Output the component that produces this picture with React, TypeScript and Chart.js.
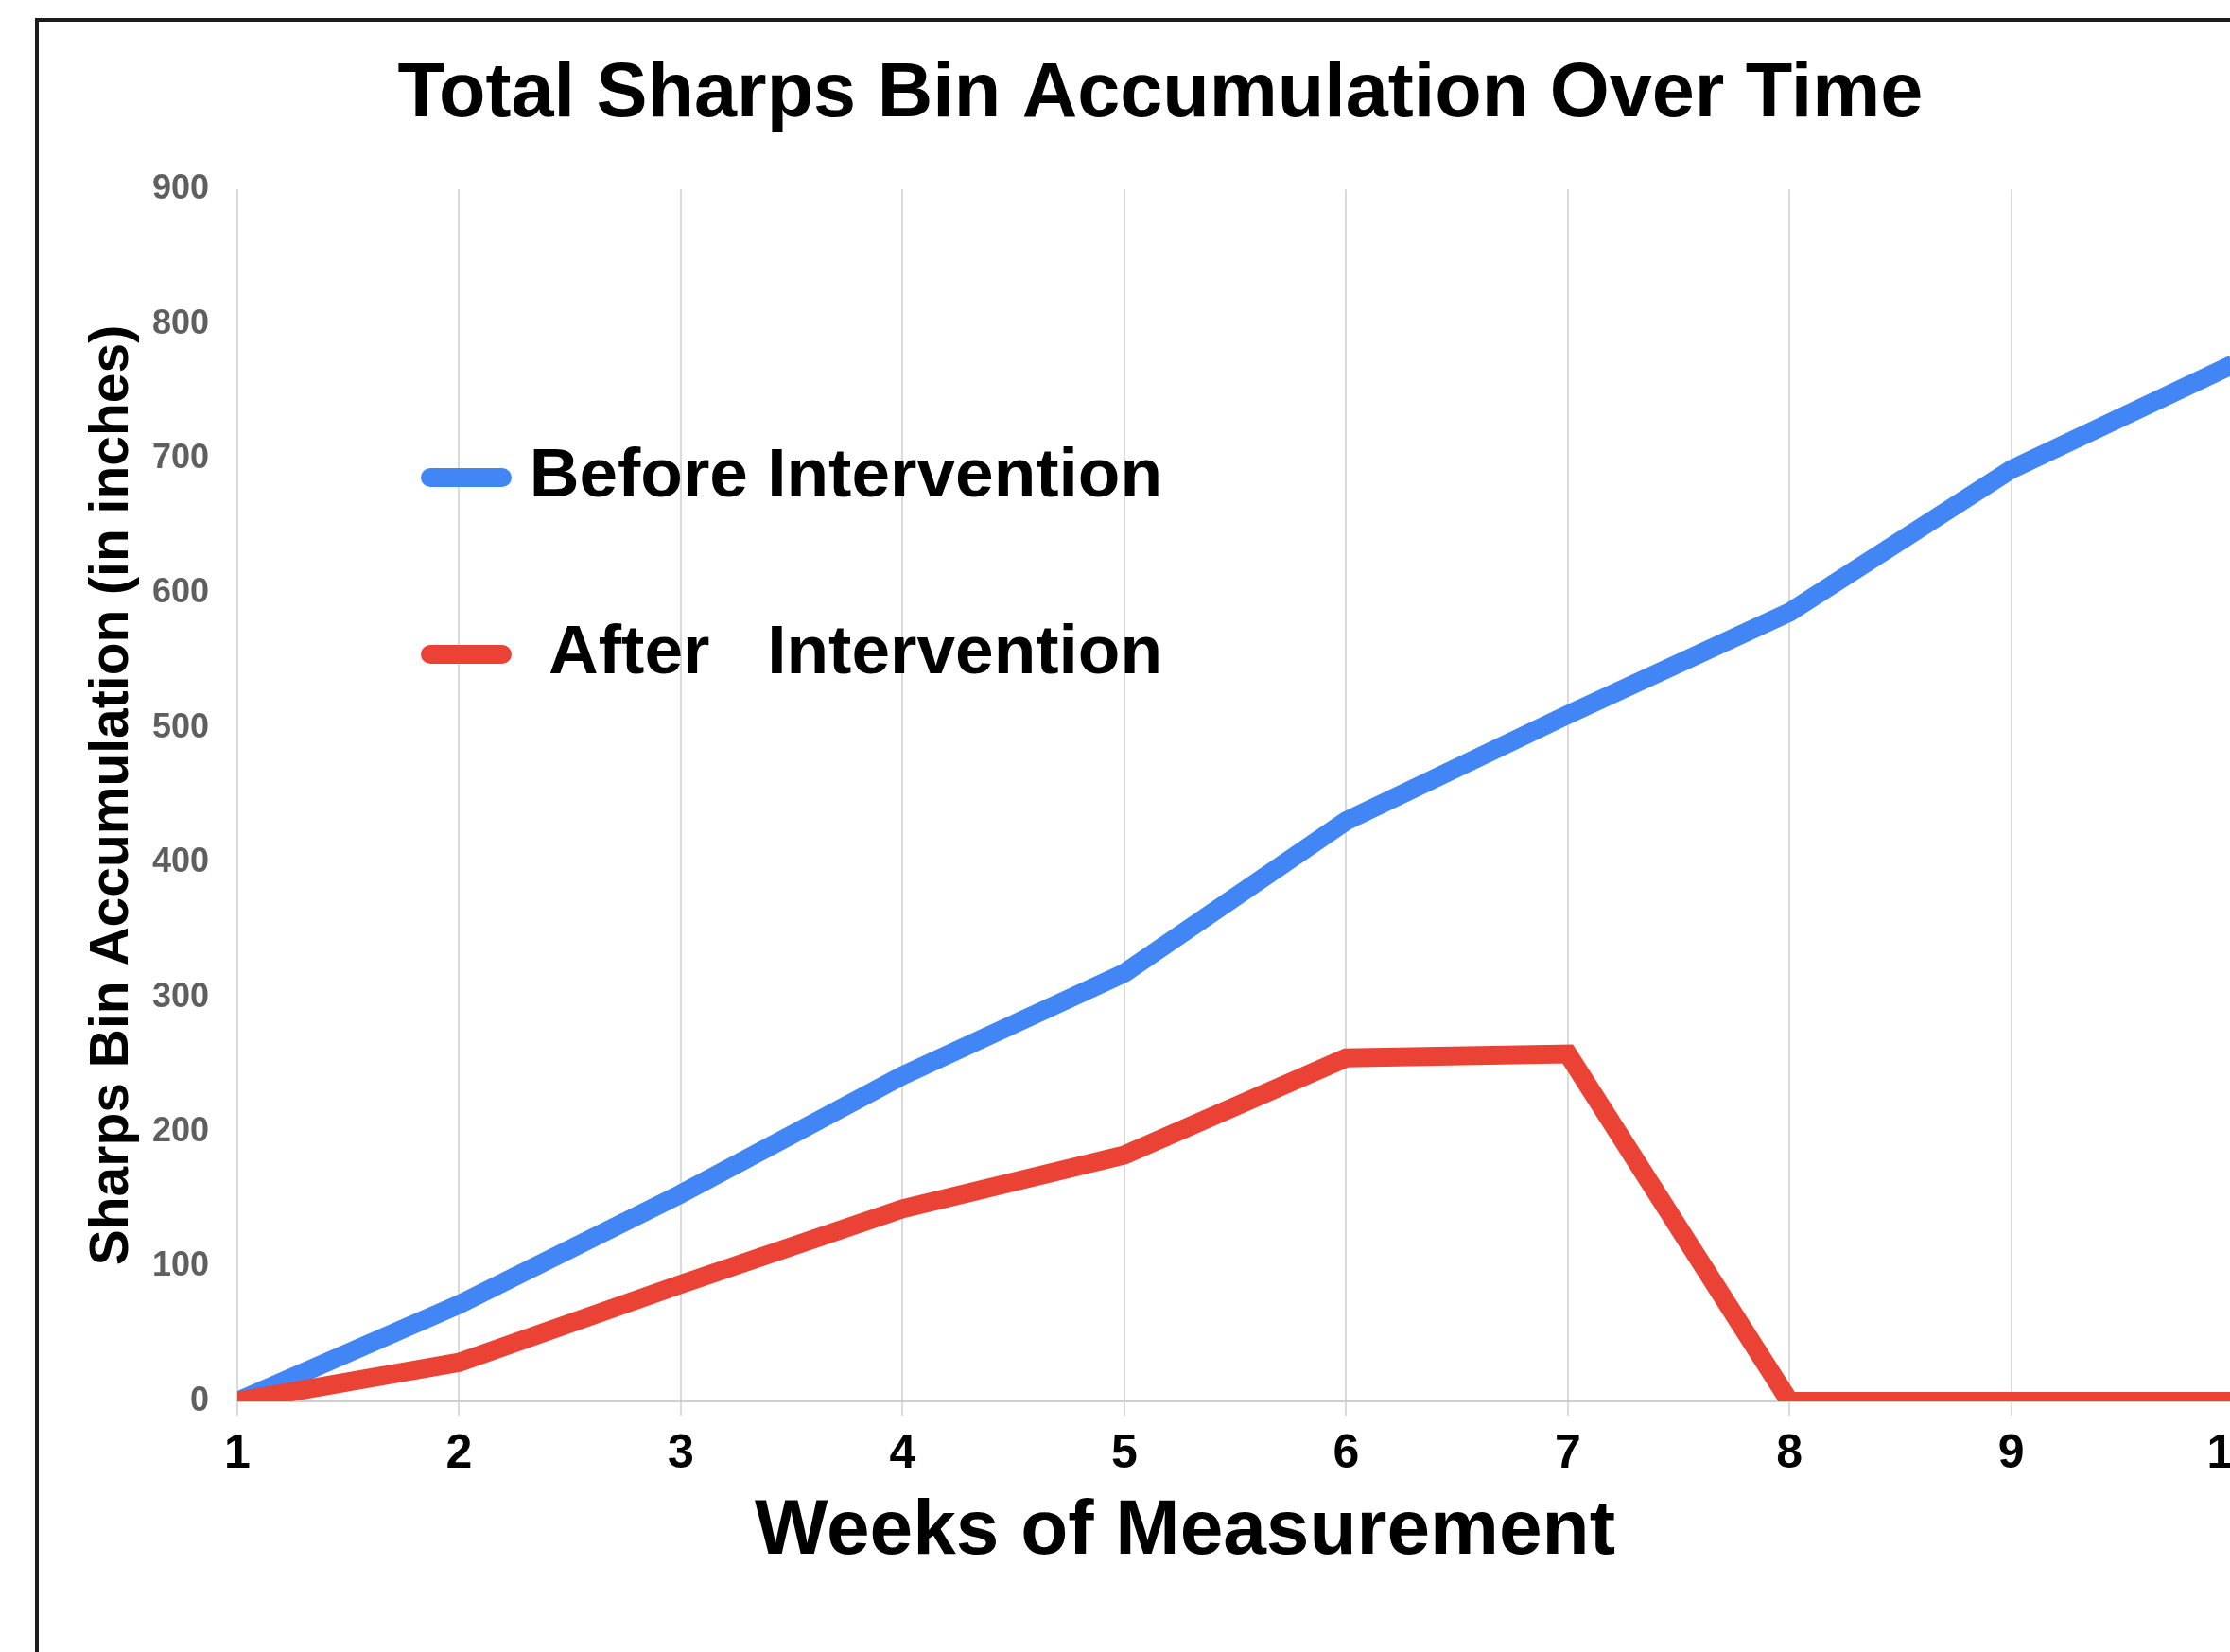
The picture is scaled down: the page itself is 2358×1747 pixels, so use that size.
import React, { useEffect, useRef } from "react";
import { Chart, registerables } from "chart.js";

Chart.register(...registerables);

const FONT = "'Liberation Sans', Arial, Helvetica, sans-serif";

const weeks = ["1", "2", "3", "4", "5", "6", "7", "8", "9", "10"];
const beforeValues = [0, 72, 154, 242, 318, 431, 510, 586, 692, 770];
const afterValues = [0, 29, 87, 143, 183, 255, 258, 0, 0, 0];
const seriesLabels = ["Before Intervention", "After   Intervention"];
const seriesColors = ["#4285F4", "#EA4335"];
const xAxisTitle = "Weeks of Measurement";
const yMin = 0;
const yMax = 900;
const yStep = 100;

const CANVAS_W = 2400;
const CANVAS_H = 1747;

const insideLegend = {
  id: "insideLegend",
  afterDatasetsDraw(chart: any) {
    const { ctx } = chart;
    const rowsY = [507, 694];
    ctx.save();
    chart.data.datasets.forEach((ds: any, i: number) => {
      const y = rowsY[i];
      ctx.strokeStyle = ds.borderColor;
      ctx.lineWidth = 20;
      ctx.lineCap = "round";
      ctx.beginPath();
      ctx.moveTo(455, y - 2);
      ctx.lineTo(531, y - 2);
      ctx.stroke();
      ctx.font = `bold 73px ${FONT}`;
      ctx.fillStyle = "#000";
      ctx.textAlign = "right";
      ctx.textBaseline = "middle";
      ctx.fillText(ds.label, 1229, y - 2);
    });
    // x axis title, centred where the reference puts it
    ctx.font = `bold 82px ${FONT}`;
    ctx.fillStyle = "#000";
    ctx.textAlign = "center";
    ctx.textBaseline = "middle";
    ctx.fillText(xAxisTitle, 1253, 1620);
    ctx.restore();
  },
};

export default function App() {
  const canvasRef = useRef<HTMLCanvasElement | null>(null);

  useEffect(() => {
    const canvas = canvasRef.current;
    if (!canvas) return;
    const chart = new Chart(canvas, {
      type: "line",
      data: {
        labels: weeks,
        datasets: [
          {
            label: seriesLabels[0],
            data: beforeValues,
            borderColor: seriesColors[0],
            backgroundColor: seriesColors[0],
            borderWidth: 20,
            pointRadius: 0,
            pointHoverRadius: 0,
            tension: 0,
            fill: false,
            order: 1,
            clip: { left: 0, top: 30, right: 30, bottom: 0 },
          },
          {
            label: seriesLabels[1],
            data: afterValues,
            borderColor: seriesColors[1],
            backgroundColor: seriesColors[1],
            borderWidth: 20,
            pointRadius: 0,
            pointHoverRadius: 0,
            tension: 0,
            fill: false,
            order: 0,
            clip: { left: 0, top: 30, right: 30, bottom: 0 },
          },
        ],
      },
      options: {
        responsive: false,
        maintainAspectRatio: false,
        animation: false,
        devicePixelRatio: 1,
        layout: { padding: { top: 20, left: 91, right: 37, bottom: 0 } },
        plugins: {
          legend: { display: false },
          tooltip: { enabled: false },
          title: {
            display: true,
            text: "Total Sharps Bin Accumulation Over Time",
            color: "#000",
            font: { family: FONT, size: 81, weight: "bold" },
            padding: { top: 32, bottom: 51 },
          },
        },
        scales: {
          x: {
            type: "category",
            offset: false,
            afterFit: (scale: any) => {
              scale.height = 265;
            },
            grid: {
              display: true,
              color: "#dadada",
              lineWidth: 2,
              drawTicks: true,
              tickLength: 15,
              tickColor: "#dadada",
            },
            border: { display: true, color: "#d0d0d0", width: 2 },
            ticks: {
              color: "#000",
              font: { family: FONT, size: 50, weight: "bold" },
              padding: 11,
              maxRotation: 0,
              autoSkip: false,
            },
            title: { display: false },
          },
          y: {
            min: yMin,
            max: yMax,
            afterFit: (scale: any) => {
              scale.width = 160;
            },
            grid: { display: false, drawTicks: false },
            border: { display: false },
            ticks: {
              stepSize: yStep,
              color: "#5f5f5f",
              font: { family: FONT, size: 36, weight: "bold" },
              padding: 30,
            },
            title: {
              display: true,
              text: "Sharps Bin Accumulation (in inches)",
              color: "#000",
              font: { family: FONT, size: 57, weight: "bold", lineHeight: 1 },
              padding: { top: 0, bottom: 0 },
            },
          },
        },
      },
      plugins: [insideLegend],
    });
    return () => chart.destroy();
  }, []);

  return (
    <div
      style={{
        position: "fixed",
        left: 0,
        top: 0,
        width: 2358,
        height: 1747,
        overflow: "hidden",
        background: "#fff",
      }}
    >
      <canvas
        ref={canvasRef}
        width={CANVAS_W}
        height={CANVAS_H}
        style={{ position: "absolute", left: 0, top: 0, width: CANVAS_W, height: CANVAS_H }}
      />
      <div
        style={{
          position: "absolute",
          left: 37,
          top: 19,
          width: 2400,
          height: 1800,
          borderLeft: "4px solid #1c1c1c",
          borderTop: "4px solid #1c1c1c",
          pointerEvents: "none",
        }}
      />
    </div>
  );
}
